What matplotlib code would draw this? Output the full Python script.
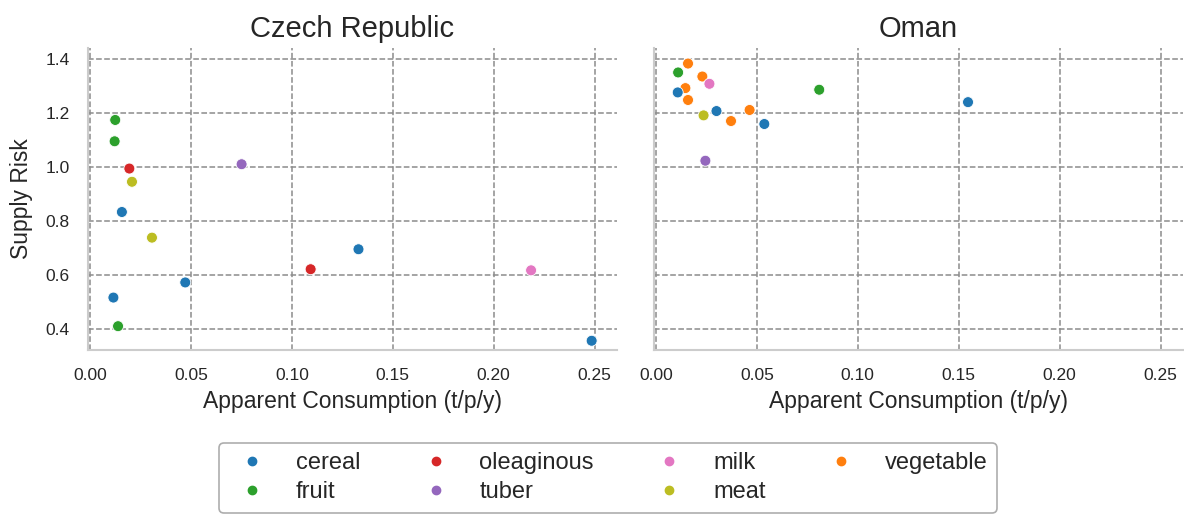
import matplotlib.pyplot as plt
from matplotlib.lines import Line2D

plt.rcParams['font.family'] = ['Liberation Sans', 'DejaVu Sans']

# category order for the legend and colours
categories = ['cereal', 'fruit', 'oleaginous', 'tuber', 'milk', 'meat', 'vegetable']
colors = {'cereal': '#1f77b4', 'fruit': '#2ca02c', 'oleaginous': '#d62728',
          'tuber': '#9467bd', 'milk': '#e377c2', 'meat': '#bcbd22',
          'vegetable': '#ff7f0e'}

# Czech Republic
cz_cat = ['fruit', 'fruit', 'oleaginous', 'meat', 'cereal', 'tuber', 'meat',
          'cereal', 'oleaginous', 'cereal', 'cereal', 'fruit', 'milk', 'cereal']
cz_x = [0.0125, 0.0122, 0.0195, 0.0208, 0.0158, 0.0751, 0.0307,
        0.133, 0.1093, 0.0472, 0.0116, 0.0139, 0.2185, 0.2485]
cz_y = [1.175, 1.096, 0.995, 0.946, 0.834, 1.011, 0.739,
        0.696, 0.622, 0.573, 0.517, 0.411, 0.618, 0.357]

# Oman
om_cat = ['vegetable', 'fruit', 'vegetable', 'milk', 'vegetable', 'cereal',
          'vegetable', 'fruit', 'cereal', 'vegetable', 'cereal', 'meat',
          'vegetable', 'cereal', 'tuber']
om_x = [0.0159, 0.011, 0.023, 0.0265, 0.0146, 0.0108, 0.0159, 0.0809,
        0.1546, 0.0464, 0.030, 0.0236, 0.0372, 0.0537, 0.0245]
om_y = [1.384, 1.351, 1.336, 1.309, 1.293, 1.277, 1.249, 1.287,
        1.241, 1.212, 1.208, 1.192, 1.171, 1.160, 1.024]

fig, axes = plt.subplots(1, 2, figsize=(11.84, 5.15), dpi=100, sharex=True, sharey=True)
fig.subplots_adjust(left=0.0743, right=0.999, top=0.907, bottom=0.320, wspace=0.07)

for ax, title, cats, xs, ys in [(axes[0], 'Czech Republic', cz_cat, cz_x, cz_y),
                                (axes[1], 'Oman', om_cat, om_x, om_y)]:
    ax.scatter(xs, ys, c=[colors[c] for c in cats], s=62,
               edgecolors='white', linewidths=0.6, zorder=3)
    ax.set_title(title, fontsize=21, pad=8, color='#262626')
    ax.set_xlabel('Apparent Consumption (t/p/y)', fontsize=16.5,
                  color='#262626', labelpad=5)
    ax.grid(True, linestyle='--', color='#8c8c8c', linewidth=1.1, zorder=0)
    ax.set_axisbelow(True)
    for s in ['top', 'right']:
        ax.spines[s].set_visible(False)
    for s in ['left', 'bottom']:
        ax.spines[s].set_color('#cccccc')
        ax.spines[s].set_linewidth(1.5)
    ax.tick_params(labelsize=12.5, length=0, pad=13, colors='#262626')

axes[0].set_xticks([0.0, 0.05, 0.10, 0.15, 0.20, 0.25])
axes[0].set_yticks([0.4, 0.6, 0.8, 1.0, 1.2, 1.4])
axes[0].set_xlim(-0.001, 0.261)
axes[0].set_ylim(0.322, 1.442)
axes[0].set_ylabel('Supply Risk', fontsize=16.5, color='#262626', labelpad=9)

handles = [Line2D([], [], marker='o', linestyle='', color=colors[c],
                  markersize=6, label=c) for c in categories]
leg = fig.legend(handles=handles, loc='center', ncol=4,
                 bbox_to_anchor=(0.5135, 0.072), fontsize=17, frameon=True,
                 handlelength=2.0, handletextpad=0.85, columnspacing=2.2,
                 borderpad=0.4, labelspacing=0.3, fancybox=True)
leg.get_frame().set_edgecolor('#999999')
leg.get_frame().set_linewidth(1.2)
for t in leg.get_texts():
    t.set_color('#262626')

plt.savefig('out.png', dpi=100)
